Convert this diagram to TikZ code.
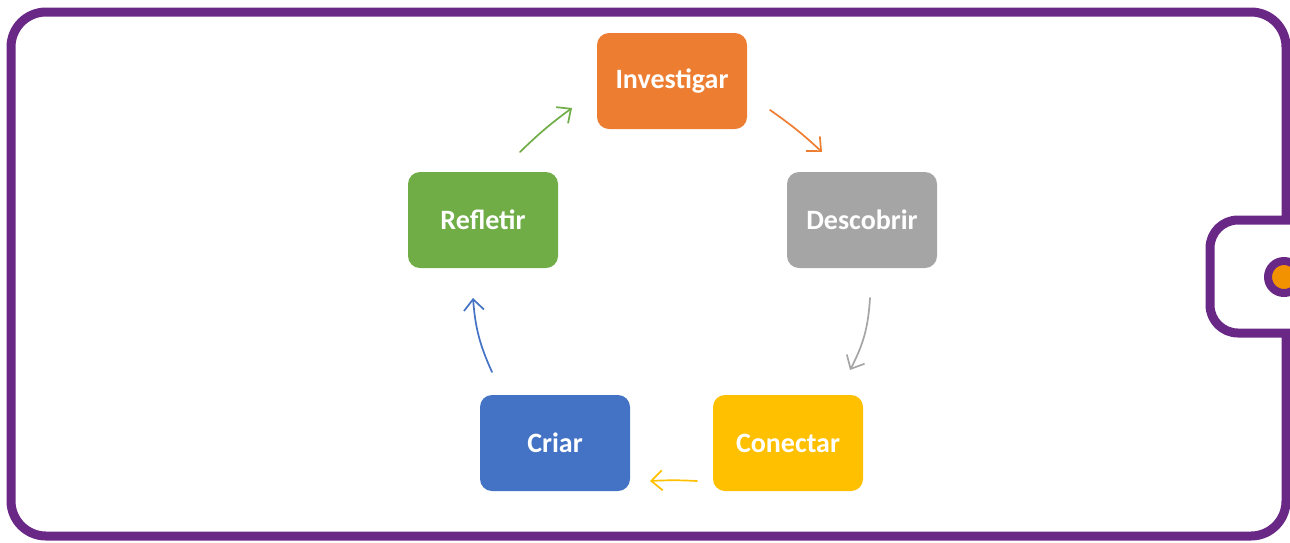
\documentclass[tikz,border=0pt]{standalone}
\usepackage{fontspec}
\setmainfont{Carlito}
\usepackage{xcolor}
\usetikzlibrary{arrows.meta}
\definecolor{framepurple}{RGB}{106,40,134}
\definecolor{dotorange}{RGB}{243,146,0}
\definecolor{cinv}{RGB}{237,125,49}
\definecolor{cdesc}{RGB}{165,165,165}
\definecolor{ccon}{RGB}{255,192,0}
\definecolor{ccri}{RGB}{68,114,196}
\definecolor{cref}{RGB}{112,173,71}
\tikzset{phase/.style={rounded corners=12pt,minimum width=150pt,minimum height=96pt,text=white,font=\fontsize{28}{32}\selectfont\bfseries}}
\tikzset{eflow/.style={-{Straight Barb[length=11pt,width=20pt]},line width=1.7pt,line cap=round}}
\tikzset{eframe/.style={framepurple,line width=9pt}}

\begin{document}
\begin{tikzpicture}[x=1pt,y=-1pt]
            \useasboundingbox (0,0) rectangle (1290,542);
            % draw the frame with the tab on the right
            \draw[eframe] (11,270) [rounded corners=35pt] -- (11,12) -- (1286,12) [sharp corners] -- (1286,220)
                [rounded corners=28pt] -- (1210,220) -- (1210,333) [sharp corners] -- (1286,333)
                [rounded corners=35pt] -- (1286,536) -- (11,536) -- (11,270);
            \draw[framepurple,line width=8pt,fill=dotorange] (1284,277) circle (16);
            % draw the five phases
            \node[phase,fill=cinv] (inv) at (672,81) {Investigar};
            \node[phase,fill=cdesc] (desc) at (862,220) {Descobrir};
            \node[phase,fill=ccon] (con) at (788,443) {Conectar};
            \node[phase,fill=ccri] (cri) at (555,443) {Criar};
            \node[phase,fill=cref] (ref) at (483,220) {Refletir};
            % arrow ends
            \coordinate (a1) at (770,110); \coordinate (b1) at (822,152);
            \coordinate (a2) at (870,298); \coordinate (b2) at (850,370);
            \coordinate (a3) at (697,481); \coordinate (b3) at (650,481);
            \coordinate (a4) at (492,372); \coordinate (b4) at (473,298);
            \coordinate (a5) at (520,152); \coordinate (b5) at (572,108);
            % draw the arrows
            \draw[eflow,cinv] (a1) to[bend left=4] (b1);
            \draw[eflow,cdesc] (a2) to[bend left=12] (b2);
            \draw[eflow,ccon] (a3) to[bend right=3] (b3);
            \draw[eflow,ccri] (a4) to[bend left=10] (b4);
            \draw[eflow,cref] (a5) to[bend left=4] (b5);
\end{tikzpicture}
\end{document}
